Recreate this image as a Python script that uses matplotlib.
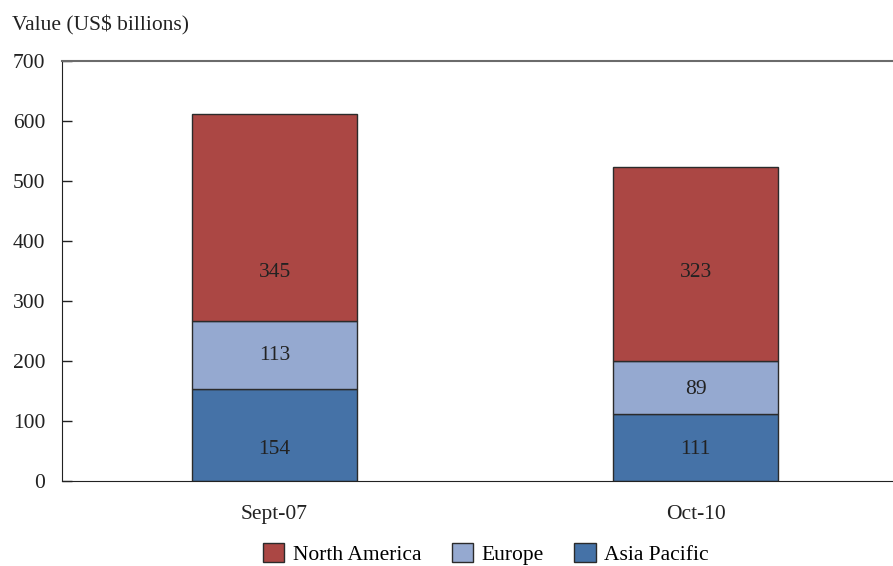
import matplotlib
matplotlib.use("Agg")
import matplotlib.pyplot as plt
import numpy as np

plt.rcParams['font.family'] = ['Liberation Serif', 'DejaVu Serif']

# data
periods = ["Sept-07", "Oct-10"]
asia_pacific = [154, 111]
europe = [113, 89]
north_america = [345, 323]

# where the value labels sit (y in data units), per segment
label_y_ap = [52, 52]
label_y_eu = [210, 152]
label_y_na = [348, 348]

c_na = "#AB4744"
c_eu = "#95A9D0"
c_ap = "#4572A7"
edge = "#2b2b2b"
txt = "#222222"
fs = 15.5

fig = plt.figure(figsize=(8.93, 5.66), dpi=100)
ax = fig.add_axes([62 / 893, 1 - 481 / 566, (893 - 62) / 893, 420 / 566])

x = np.arange(len(periods))
w = 0.392
ap = np.array(asia_pacific)
eu = np.array(europe)
na = np.array(north_america)

b1 = ax.bar(x, ap, w, color=c_ap, edgecolor=edge, linewidth=1, label="Asia Pacific")
b2 = ax.bar(x, eu, w, bottom=ap, color=c_eu, edgecolor=edge, linewidth=1, label="Europe")
b3 = ax.bar(x, na, w, bottom=ap + eu, color=c_na, edgecolor=edge, linewidth=1, label="North America")

for vals, ys in [(ap, label_y_ap), (eu, label_y_eu), (na, label_y_na)]:
    for i, v in enumerate(vals):
        ax.text(x[i], ys[i], str(v), ha="center", va="center", fontsize=fs, color=txt)

ax.set_ylim(0, 700)
ax.set_xlim(-0.505, 1.469)
ax.set_yticks(range(0, 701, 100))
ax.set_xticks(x)
ax.set_xticklabels(periods)
ax.tick_params(axis="y", direction="in", length=7, width=1, labelsize=fs,
               colors=txt, pad=12)
ax.tick_params(axis="x", length=0, labelsize=fs, colors=txt, pad=17)

ax.spines["right"].set_visible(False)
ax.spines["top"].set_color("#6b6b6b")
ax.spines["top"].set_linewidth(1.5)
ax.spines["left"].set_color(txt)
ax.spines["bottom"].set_color(txt)

fig.text(12 / 893, 1 - 25 / 566, "Value (US$ billions)", ha="left", va="center",
         fontsize=fs, color=txt)

handles = [b3, b2, b1]
fig.legend(handles, [h.get_label() for h in handles], loc="center",
           bbox_to_anchor=(486 / 893, 1 - 554 / 566), ncol=3, frameon=False,
           fontsize=fs, handlelength=1.0, handleheight=1.0, handletextpad=0.4,
           columnspacing=1.4)

fig.savefig("out.png", dpi=100)
